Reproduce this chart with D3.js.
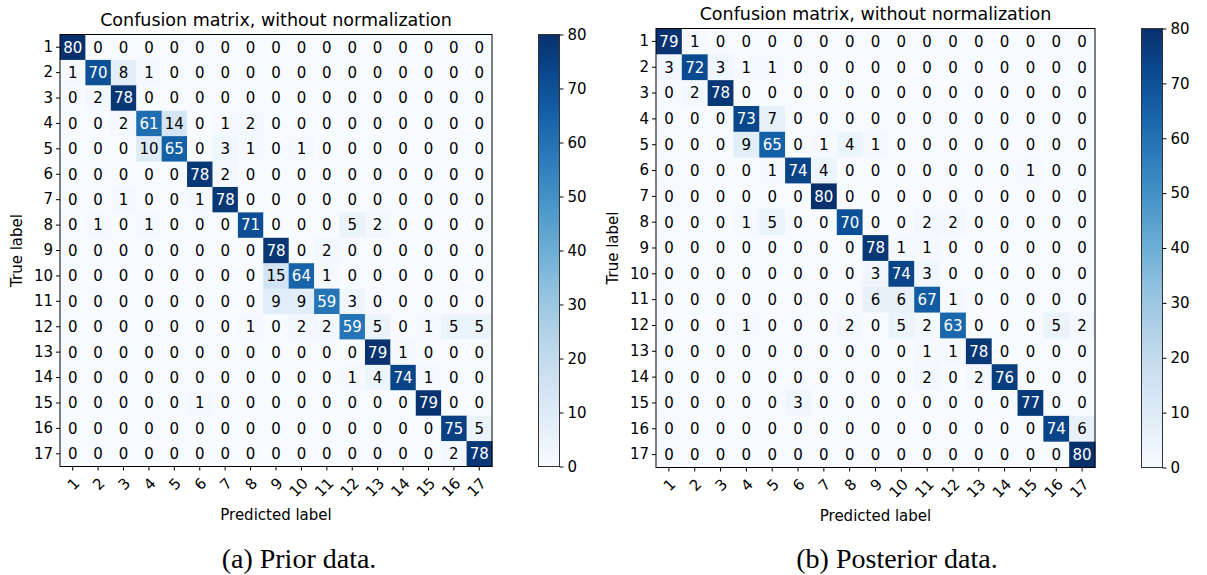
<!DOCTYPE html>
<html>
<head>
<meta charset="utf-8">
<script src="https://cdn.jsdelivr.net/npm/d3@7"></script>
<style>
  body { margin: 0; background: #fff; }
  text { font-family: "DejaVu Sans", sans-serif; }
</style>
</head>
<body>
<div id="chart"></div>
<script>
(function () {
    var labels = ["1","2","3","4","5","6","7","8","9","10","11","12","13","14","15","16","17"];
    var colorbarTicks = [0, 10, 20, 30, 40, 50, 60, 70, 80];

    var priorMatrix = [
        [80,0,0,0,0,0,0,0,0,0,0,0,0,0,0,0,0],
        [1,70,8,1,0,0,0,0,0,0,0,0,0,0,0,0,0],
        [0,2,78,0,0,0,0,0,0,0,0,0,0,0,0,0,0],
        [0,0,2,61,14,0,1,2,0,0,0,0,0,0,0,0,0],
        [0,0,0,10,65,0,3,1,0,1,0,0,0,0,0,0,0],
        [0,0,0,0,0,78,2,0,0,0,0,0,0,0,0,0,0],
        [0,0,1,0,0,1,78,0,0,0,0,0,0,0,0,0,0],
        [0,1,0,1,0,0,0,71,0,0,0,5,2,0,0,0,0],
        [0,0,0,0,0,0,0,0,78,0,2,0,0,0,0,0,0],
        [0,0,0,0,0,0,0,0,15,64,1,0,0,0,0,0,0],
        [0,0,0,0,0,0,0,0,9,9,59,3,0,0,0,0,0],
        [0,0,0,0,0,0,0,1,0,2,2,59,5,0,1,5,5],
        [0,0,0,0,0,0,0,0,0,0,0,0,79,1,0,0,0],
        [0,0,0,0,0,0,0,0,0,0,0,1,4,74,1,0,0],
        [0,0,0,0,0,1,0,0,0,0,0,0,0,0,79,0,0],
        [0,0,0,0,0,0,0,0,0,0,0,0,0,0,0,75,5],
        [0,0,0,0,0,0,0,0,0,0,0,0,0,0,0,2,78]
    ];

    var posteriorMatrix = [
        [79,1,0,0,0,0,0,0,0,0,0,0,0,0,0,0,0],
        [3,72,3,1,1,0,0,0,0,0,0,0,0,0,0,0,0],
        [0,2,78,0,0,0,0,0,0,0,0,0,0,0,0,0,0],
        [0,0,0,73,7,0,0,0,0,0,0,0,0,0,0,0,0],
        [0,0,0,9,65,0,1,4,1,0,0,0,0,0,0,0,0],
        [0,0,0,0,1,74,4,0,0,0,0,0,0,0,1,0,0],
        [0,0,0,0,0,0,80,0,0,0,0,0,0,0,0,0,0],
        [0,0,0,1,5,0,0,70,0,0,2,2,0,0,0,0,0],
        [0,0,0,0,0,0,0,0,78,1,1,0,0,0,0,0,0],
        [0,0,0,0,0,0,0,0,3,74,3,0,0,0,0,0,0],
        [0,0,0,0,0,0,0,0,6,6,67,1,0,0,0,0,0],
        [0,0,0,1,0,0,0,2,0,5,2,63,0,0,0,5,2],
        [0,0,0,0,0,0,0,0,0,0,1,1,78,0,0,0,0],
        [0,0,0,0,0,0,0,0,0,0,2,0,2,76,0,0,0],
        [0,0,0,0,0,3,0,0,0,0,0,0,0,0,77,0,0],
        [0,0,0,0,0,0,0,0,0,0,0,0,0,0,0,74,6],
        [0,0,0,0,0,0,0,0,0,0,0,0,0,0,0,0,80]
    ];

    var width = 1207, height = 575;

    var svg = d3.select("#chart").append("svg")
        .attr("width", width)
        .attr("height", height);

    // panel boxes
    var panels = [
        { data: priorMatrix, x: 60, y: 34.5, size: 432, cbx: 538.5, title: "Confusion matrix, without normalization",
          caption: "(a) Prior data.", capX: 299 },
        { data: posteriorMatrix, x: 656, y: 28.5, size: 439, cbx: 1141.5, title: "Confusion matrix, without normalization",
          caption: "(b) Posterior data.", capX: 897 }
    ];

    panels.forEach(function (p) { drawMatrix(p); });

    function drawMatrix(p) {
        var maxVal = d3.max(p.data, function (r) { return d3.max(r); });
        var color = d3.scaleSequential(d3.interpolateBlues).domain([0, maxVal]);

        var xScale = d3.scaleBand().domain(labels).range([0, p.size]);
        var yScale = d3.scaleBand().domain(labels).range([0, p.size]);

        var g = svg.append("g").attr("transform", "translate(" + p.x + "," + p.y + ")");

        var cells = [];
        p.data.forEach(function (row, i) {
            row.forEach(function (v, j) {
                cells.push({ row: labels[i], col: labels[j], value: v });
            });
        });

        g.selectAll(".cell")
            .data(cells)
            .enter().append("rect")
            .attr("class", "cell")
            .attr("x", function (d) { return xScale(d.col); })
            .attr("y", function (d) { return yScale(d.row); })
            .attr("width", xScale.bandwidth() + 0.5)
            .attr("height", yScale.bandwidth() + 0.5)
            .attr("fill", function (d) { return color(d.value); });

        g.selectAll(".val")
            .data(cells)
            .enter().append("text")
            .attr("class", "val")
            .attr("x", function (d) { return xScale(d.col) + xScale.bandwidth() / 2; })
            .attr("y", function (d) { return yScale(d.row) + yScale.bandwidth() / 2; })
            .attr("dy", "0.36em")
            .attr("text-anchor", "middle")
            .style("font-size", "15px")
            .attr("fill", function (d) { return d.value > maxVal / 2 ? "#fff" : "#000"; })
            .text(function (d) { return d.value; });

        // frame
        g.append("rect")
            .attr("width", p.size).attr("height", p.size)
            .attr("fill", "none").attr("stroke", "#000").attr("stroke-width", 1);

        // y axis
        var yAxis = g.append("g").call(d3.axisLeft(yScale).tickSize(4).tickPadding(3));
        yAxis.select(".domain").remove();
        yAxis.selectAll("text").style("font-size", "15px").attr("fill", "#000");

        // x axis with rotated labels
        var xAxis = g.append("g")
            .attr("transform", "translate(0," + p.size + ")")
            .call(d3.axisBottom(xScale).tickSize(4));
        xAxis.select(".domain").remove();
        xAxis.selectAll("text")
            .style("font-size", "15px")
            .attr("fill", "#000")
            .attr("text-anchor", "end")
            .attr("dy", "0.35em")
            .attr("transform", "translate(4,14) rotate(-45)")
            .attr("x", 0).attr("y", 0);

        g.append("text")
            .attr("x", p.size / 2).attr("y", -9)
            .attr("text-anchor", "middle")
            .style("font-size", "17.5px")
            .text(p.title);

        g.append("text")
            .attr("transform", "translate(" + (-38) + "," + (p.size / 2) + ") rotate(-90)")
            .attr("text-anchor", "middle")
            .style("font-size", "15px")
            .text("True label");

        g.append("text")
            .attr("x", p.size / 2).attr("y", p.size + 53)
            .attr("text-anchor", "middle")
            .style("font-size", "15px")
            .text("Predicted label");

        // colorbar
        var cbW = 21;
        var cScale = d3.scaleLinear().domain([0, 80]).range([p.size, 0]);
        var cb = svg.append("g").attr("transform", "translate(" + p.cbx + "," + p.y + ")");
        var gradId = "grad" + p.cbx;
        var grad = svg.append("defs").append("linearGradient")
            .attr("id", gradId).attr("x1", 0).attr("y1", 1).attr("x2", 0).attr("y2", 0);
        d3.range(0, 1.01, 0.1).forEach(function (t) {
            grad.append("stop").attr("offset", t).attr("stop-color", d3.interpolateBlues(t));
        });
        cb.append("rect").attr("width", cbW).attr("height", p.size)
            .attr("fill", "url(#" + gradId + ")")
            .attr("stroke", "#333").attr("stroke-width", 1);
        var cAxis = cb.append("g").attr("transform", "translate(" + cbW + ",0)")
            .call(d3.axisRight(cScale).tickValues(colorbarTicks).tickSize(4).tickPadding(4));
        cAxis.select(".domain").remove();
        cAxis.selectAll("text").style("font-size", "15px").attr("fill", "#000");

        svg.append("text")
            .attr("x", p.capX).attr("y", 568)
            .attr("text-anchor", "middle")
            .style("font-family", "'Liberation Serif', serif")
            .style("font-size", "28px")
            .text(p.caption);
    }
})();
</script>
</body>
</html>
